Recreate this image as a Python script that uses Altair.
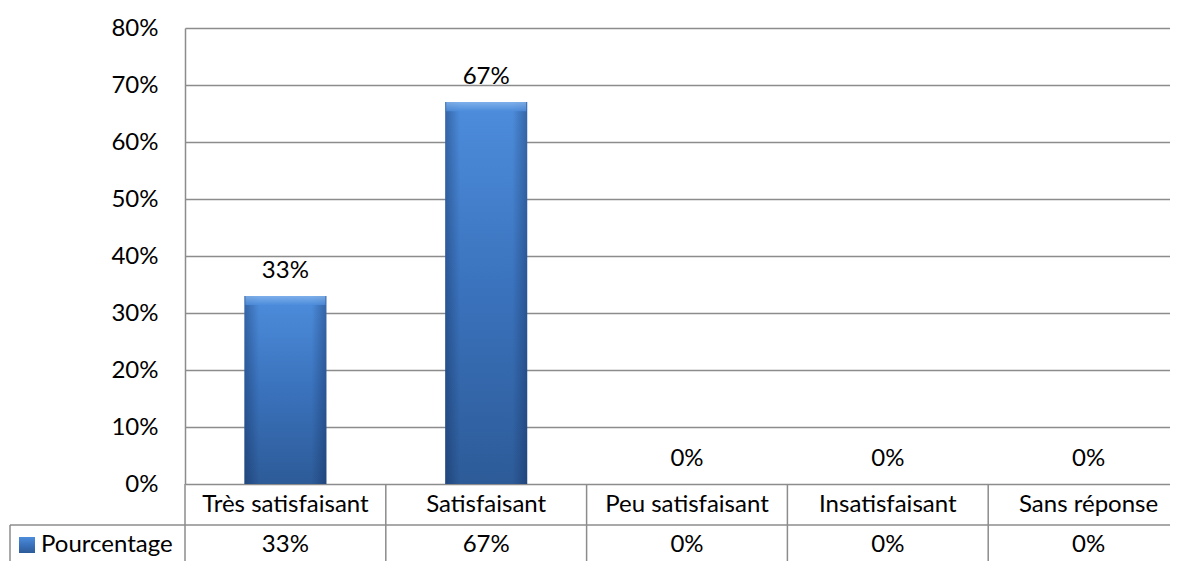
import altair as alt
import pandas as pd

categories = ["Très satisfaisant", "Satisfaisant", "Peu satisfaisant", "Insatisfaisant", "Sans réponse"]
values = [0.33, 0.67, 0.0, 0.0, 0.0]
series_name = "Pourcentage"
y_ticks = [0.0, 0.1, 0.2, 0.3, 0.4, 0.5, 0.6, 0.7, 0.8]

df = pd.DataFrame({"cat": categories, "val": values})
legend_df = pd.DataFrame({"name": [series_name]})

FONT = "Lato"
FS = 24
GRID = "#8c8c8c"

W, H = 985, 456
BAND_RANGE = 1004

xscale = alt.Scale(domain=categories, range=[0, BAND_RANGE], paddingInner=0, paddingOuter=0)


def X(**kw):
    return alt.X("cat:N", sort=categories, scale=xscale, axis=None, **kw)


Y = alt.Y(
    "val:Q",
    scale=alt.Scale(domain=[0, 0.8], nice=False),
    axis=alt.Axis(
        values=y_ticks, format=".0%", ticks=False, labelPadding=27,
        labelFont=FONT, labelFontSize=FS, labelColor="#000000",
        grid=True, gridColor=GRID, gridWidth=1.5,
        domainColor=GRID, domainWidth=1.5, title=None,
        labelBaseline="middle",
    ),
)

bar_grad = alt.Gradient(
    gradient="linear",
    stops=[alt.GradientStop(color="#4d8ddc", offset=0),
           alt.GradientStop(color="#3a72bc", offset=0.5),
           alt.GradientStop(color="#2d5b98", offset=1)],
    x1=0, x2=0, y1=0, y2=1,
)
edge_grad = alt.Gradient(
    gradient="linear",
    stops=[alt.GradientStop(color="rgba(10,30,70,0.35)", offset=0),
           alt.GradientStop(color="rgba(10,30,70,0)", offset=0.18),
           alt.GradientStop(color="rgba(10,30,70,0)", offset=0.82),
           alt.GradientStop(color="rgba(10,30,70,0.35)", offset=1)],
    x1=0, x2=1, y1=0, y2=0,
)
bevel_grad = alt.Gradient(
    gradient="linear",
    stops=[alt.GradientStop(color="#8ab8ee", offset=0),
           alt.GradientStop(color="#4d8ddc", offset=1)],
    x1=0, x2=0, y1=0, y2=1,
)

base = alt.Chart(df)

bars = base.mark_bar(width=82, color=bar_grad).encode(x=X(), y=Y)
bars_edge = base.mark_bar(width=82, color=edge_grad).encode(x=X(), y="val:Q")
bevel = base.transform_filter("datum.val > 0").transform_calculate(
    bev="datum.val - 0.016"
).mark_bar(width=80, color=bevel_grad, opacity=0.8).encode(x=X(), y="val:Q", y2="bev:Q")

bar_labels = base.mark_text(font=FONT, fontSize=FS, color="#000000", dy=-25, baseline="middle").encode(
    x=X(), y="val:Q", text=alt.Text("val:Q", format=".0%")
)

cat_row = base.mark_text(font=FONT, fontSize=FS, color="#000000", baseline="middle").encode(
    x=X(), y=alt.value(477), text="cat:N"
)
val_row = base.mark_text(font=FONT, fontSize=FS, color="#000000", baseline="middle").encode(
    x=X(), y=alt.value(517), text=alt.Text("val:Q", format=".0%")
)

separators = base.mark_rule(color=GRID, strokeWidth=1.5).encode(
    x=X(bandPosition=0), y=alt.value(H), y2=alt.value(540)
)

lg = alt.Chart(legend_df)
hline = lg.mark_rule(color=GRID, strokeWidth=1.5).encode(
    x=alt.value(-175), x2=alt.value(W), y=alt.value(497)
)
vline = lg.mark_rule(color=GRID, strokeWidth=1.5).encode(
    x=alt.value(-175), y=alt.value(497), y2=alt.value(540)
)
leg_sq = lg.mark_square(size=256, opacity=1, color=bar_grad, filled=True).encode(
    x=alt.value(-158), y=alt.value(517)
)
leg_txt = lg.mark_text(font=FONT, fontSize=FS, color="#000000", align="left", baseline="middle").encode(
    x=alt.value(-144), y=alt.value(517), text="name:N"
)

chart = alt.layer(
    bars, bars_edge, bevel, bar_labels, cat_row, val_row, separators, hline, vline, leg_sq, leg_txt
).properties(
    width=W, height=H,
    padding={"left": 177, "top": 20, "right": 0, "bottom": 77},
    autosize="none",
).configure_view(stroke=None)

chart.save("out.html", embed_options={"renderer": "svg", "actions": False})
